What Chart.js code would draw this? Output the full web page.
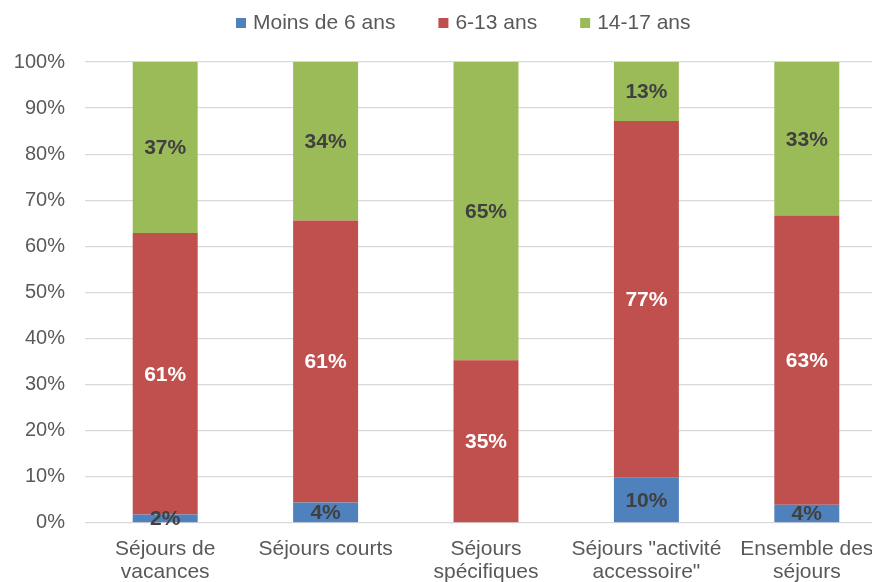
<!DOCTYPE html>
<html lang="fr">
<head>
<meta charset="utf-8">
<title>Répartition par âge des séjours</title>
<script src="https://cdn.jsdelivr.net/npm/chart.js@4/dist/chart.umd.min.js"></script>
<style>
  html, body { margin: 0; padding: 0; background: #fff; overflow: hidden; }
  #wrap { width: 872px; height: 582px; overflow: hidden; }
  canvas { display: block; }
</style>
</head>
<body>
<div id="wrap">
  <canvas id="ageChart" width="926" height="593"></canvas>
</div>
<script>
// Categories (x axis), one array per line of label
const categories = [
  ["Séjours de", "vacances"],
  ["Séjours courts"],
  ["Séjours", "spécifiques"],
  ['Séjours "activité', 'accessoire"'],
  ["Ensemble des", "séjours"],
];

// Shares in percent
const seriesNames = ["Moins de 6 ans", "6-13 ans", "14-17 ans"];
const moins6 = [1.8, 4.4, 0, 9.8, 3.9];
const ans6to13 = [61.1, 61.2, 35.3, 77.4, 62.8];
const ans14to17 = [37.1, 34.4, 64.7, 12.8, 33.3];

// Y ticks
const yTicks = [0, 10, 20, 30, 40, 50, 60, 70, 80, 90, 100];

const COLORS = {
  blue: "#4F81BD",
  red: "#C0504D",
  green: "#9BBB59",
  text: "#595959",
  labelDark: "#404040",
  grid: "#D9D9D9",
};
const FONT = "'Liberation Sans', Arial, sans-serif";

/**
 * Draws the value labels centred in each segment
 */
const segmentLabels = {
  id: "segmentLabels",
  afterDatasetsDraw(chart) {
    const ctx = chart.ctx;
    ctx.save();
    ctx.font = "bold 21px " + FONT;
    ctx.textAlign = "center";
    ctx.textBaseline = "middle";
    chart.data.datasets.forEach((ds, i) => {
      const meta = chart.getDatasetMeta(i);
      meta.data.forEach((bar, j) => {
        const v = ds.data[j];
        if (!v) return;
        ctx.fillStyle = ds.labelColor;
        ctx.fillText(Math.round(v) + "%", bar.x, (bar.y + bar.base) / 2 + 1);
      });
    });
    ctx.restore();
  },
};

/**
 * Excel-like legend: small square, tight text, wide gaps between items
 */
const excelLegend = {
  id: "excelLegend",
  afterDraw(chart) {
    const ctx = chart.ctx;
    const y = 23;
    let x = 236;
    ctx.save();
    ctx.font = "21px " + FONT;
    ctx.textBaseline = "middle";
    ctx.textAlign = "left";
    chart.data.datasets.forEach((ds) => {
      ctx.fillStyle = ds.backgroundColor;
      ctx.fillRect(x, y - 5, 10, 10);
      ctx.fillStyle = COLORS.text;
      ctx.fillText(ds.label, x + 17, y);
      x += 17 + ctx.measureText(ds.label).width + 43;
    });
    ctx.restore();
  },
};

const ctx = document.getElementById("ageChart");

new Chart(ctx, {
  type: "bar",
  data: {
    labels: categories,
    datasets: [
      { label: seriesNames[0], data: moins6, backgroundColor: COLORS.blue, labelColor: COLORS.labelDark },
      { label: seriesNames[1], data: ans6to13, backgroundColor: COLORS.red, labelColor: "#FFFFFF" },
      { label: seriesNames[2], data: ans14to17, backgroundColor: COLORS.green, labelColor: COLORS.labelDark },
    ],
  },
  options: {
    responsive: false,
    animation: false,
    layout: { padding: { left: 0, right: 39, top: 62, bottom: 2 } },
    datasets: {
      bar: { categoryPercentage: 1, barPercentage: 0.405 },
    },
    plugins: {
      tooltip: { enabled: false },
      legend: { display: false },
    },
    scales: {
      x: {
        stacked: true,
        grid: { display: false },
        border: { display: false },
        ticks: {
          color: COLORS.text,
          font: { size: 21, family: FONT, lineHeight: 1.1 },
          padding: 7,
          maxRotation: 0,
          autoSkip: false,
        },
      },
      y: {
        stacked: true,
        min: 0,
        max: 100,
        afterFit: (scale) => { scale.width = 85; },
        afterBuildTicks: (scale) => { scale.ticks = yTicks.map((v) => ({ value: v })); },
        grid: { color: COLORS.grid, lineWidth: 1.3, drawTicks: false },
        border: { display: false },
        ticks: {
          color: COLORS.text,
          font: { size: 20, family: FONT },
          padding: 20,
          callback: (value) => value + "%",
        },
      },
    },
  },
  plugins: [segmentLabels, excelLegend],
});
</script>
</body>
</html>
